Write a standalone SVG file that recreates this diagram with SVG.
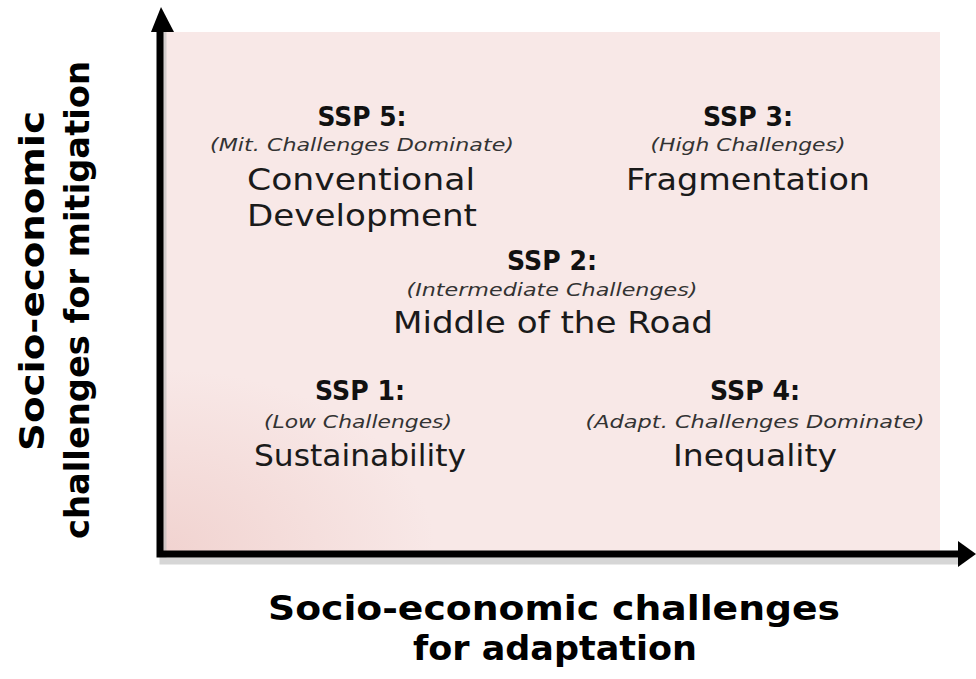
<svg xmlns="http://www.w3.org/2000/svg" width="976" height="679" viewBox="0 0 976 679">
<style>
.h{font-family:"DejaVu Sans","Liberation Sans",sans-serif;font-weight:bold;font-size:27px;fill:#111;text-anchor:middle}
.s{font-family:"DejaVu Sans","Liberation Sans",sans-serif;font-style:italic;font-size:18.5px;fill:#333;text-anchor:middle}
.n{font-family:"DejaVu Sans","Liberation Sans",sans-serif;font-size:31px;fill:#1a1a1a;text-anchor:middle}
.ax{font-family:"DejaVu Sans","Liberation Sans",sans-serif;font-weight:bold;font-size:33px;fill:#000;text-anchor:middle}
.axl{stroke:#000;stroke-width:7;fill:none}
.sh{stroke:#bbb;stroke-width:7;fill:none;opacity:0.6}
</style>
<defs>
<radialGradient id="g" cx="0" cy="1" r="0.35" gradientUnits="objectBoundingBox">
<stop offset="0" stop-color="#f1d3d0"/>
<stop offset="1" stop-color="#f8e8e7"/>
</radialGradient>
</defs>
<rect x="0" y="0" width="976" height="679" fill="#fff"/>
<rect id="bg" x="163" y="32" width="777" height="519" fill="url(#g)"/>
<g id="connectors">
<path class="sh" d="M163 30 V561 H958"/>
<path class="axl" d="M160 30 V554 H958"/>
<polygon points="151,32 161,7 174,32" fill="#000"/>
<polygon points="958,541 976,554 958,567" fill="#000"/>
</g>
<g id="ssp5">
<text class="h" x="362" y="126" textLength="89" lengthAdjust="spacingAndGlyphs">SSP 5:</text>
<text class="s" x="362" y="151" textLength="304" lengthAdjust="spacingAndGlyphs">(Mit. Challenges Dominate)</text>
<text class="n" x="361" y="190" textLength="228" lengthAdjust="spacingAndGlyphs">Conventional</text>
<text class="n" x="362" y="226" textLength="230" lengthAdjust="spacingAndGlyphs">Development</text>
</g>
<g id="ssp3">
<text class="h" x="748" y="126" textLength="90" lengthAdjust="spacingAndGlyphs">SSP 3:</text>
<text class="s" x="748" y="151" textLength="195" lengthAdjust="spacingAndGlyphs">(High Challenges)</text>
<text class="n" x="748" y="190" textLength="244" lengthAdjust="spacingAndGlyphs">Fragmentation</text>
</g>
<g id="ssp2">
<text class="h" x="552" y="270" textLength="90" lengthAdjust="spacingAndGlyphs">SSP 2:</text>
<text class="s" x="552" y="296" textLength="291" lengthAdjust="spacingAndGlyphs">(Intermediate Challenges)</text>
<text class="n" x="553" y="333" textLength="320" lengthAdjust="spacingAndGlyphs">Middle of the Road</text>
</g>
<g id="ssp1">
<text class="h" x="360" y="400" textLength="90" lengthAdjust="spacingAndGlyphs">SSP 1:</text>
<text class="s" x="358" y="428" textLength="188" lengthAdjust="spacingAndGlyphs">(Low Challenges)</text>
<text class="n" x="360" y="466" textLength="212" lengthAdjust="spacingAndGlyphs">Sustainability</text>
</g>
<g id="ssp4">
<text class="h" x="755" y="400" textLength="90" lengthAdjust="spacingAndGlyphs">SSP 4:</text>
<text class="s" x="755" y="428" textLength="339" lengthAdjust="spacingAndGlyphs">(Adapt. Challenges Dominate)</text>
<text class="n" x="755" y="466" textLength="164" lengthAdjust="spacingAndGlyphs">Inequality</text>
</g>
<g id="yaxis-title">
<text class="ax" transform="translate(44,281) rotate(-90)" textLength="340" lengthAdjust="spacingAndGlyphs">Socio-economic</text>
<text class="ax" transform="translate(89,300) rotate(-90)" textLength="478" lengthAdjust="spacingAndGlyphs">challenges for mitigation</text>
</g>
<g id="xaxis-title">
<text class="ax" x="554" y="620" textLength="572" lengthAdjust="spacingAndGlyphs">Socio-economic challenges</text>
<text class="ax" x="555" y="660" textLength="284" lengthAdjust="spacingAndGlyphs">for adaptation</text>
</g>
</svg>
